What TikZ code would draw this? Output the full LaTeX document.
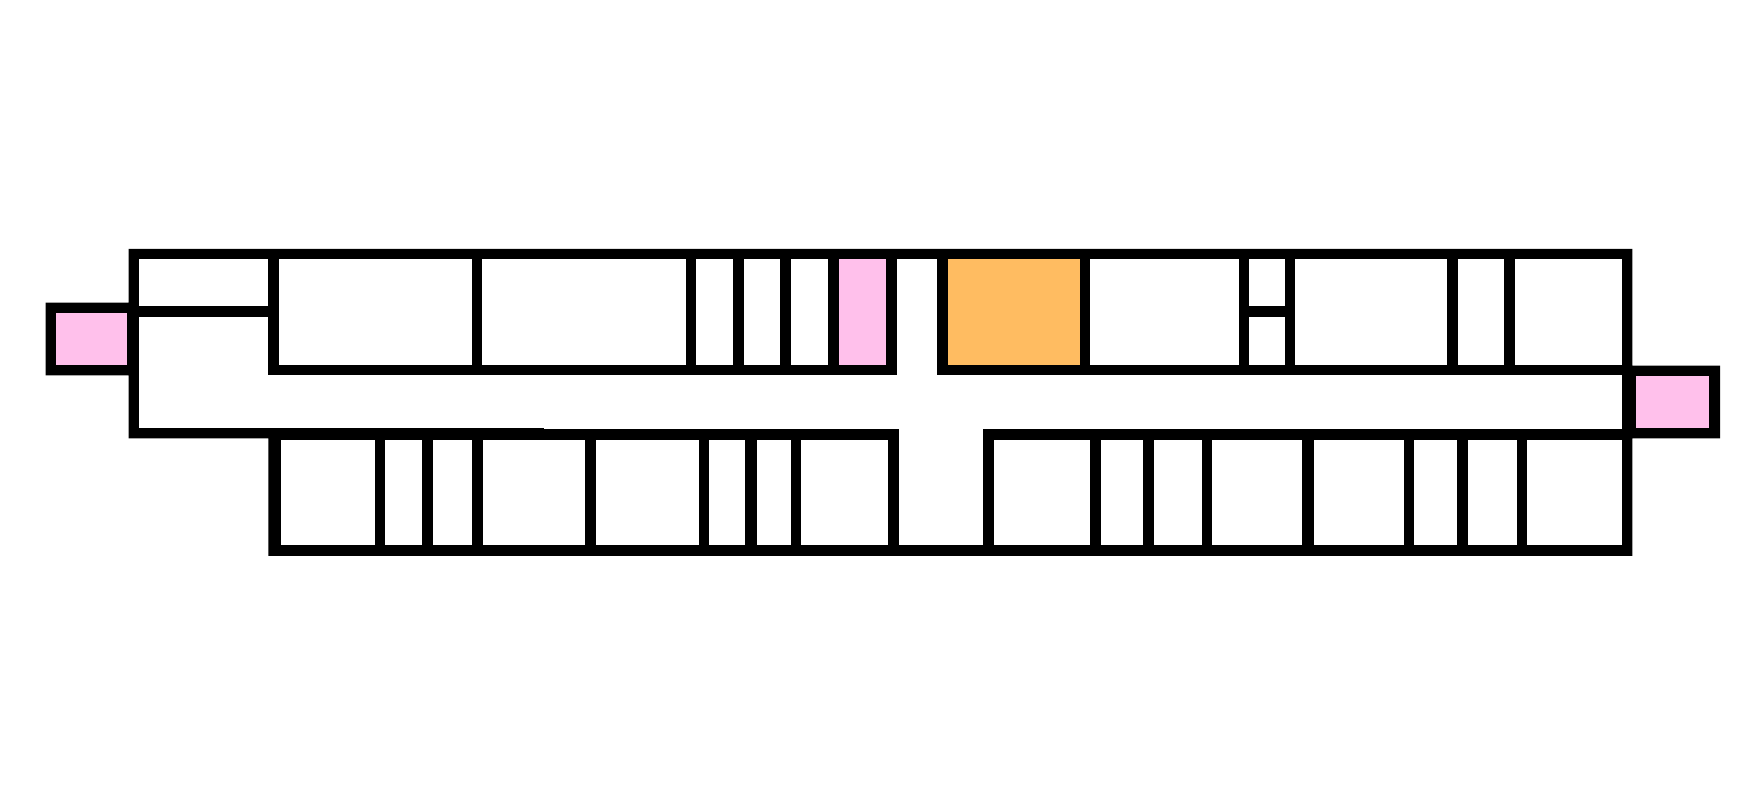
\documentclass[tikz,border=0pt]{standalone}
\definecolor{pinkroom}{HTML}{FFC0EB}
\definecolor{orangeroom}{HTML}{FFBC61}
\tikzset{
  wall/.style={fill=black,draw=none},
  room/.style={fill=white,draw=none},
  pinkcell/.style={fill=pinkroom,draw=none},
  orangecell/.style={fill=orangeroom,draw=none}
}
\begin{document}
\begin{tikzpicture}[x=0.5pt,y=-0.5pt]
\useasboundingbox (0,0) rectangle (1756,801);
\fill[white] (0,0) rectangle (1756,801);
% walls
\fill[wall] (128.7,249) -- (1632.3,249) -- (1632.3,365.7) -- (1720.1,365.7) -- (1720.1,438.3) -- (1632.3,438.3)
  -- (1632.3,556) -- (268.4,556) -- (268.4,438.3) -- (128.7,438.3) -- (128.7,375.3) -- (45.7,375.3) -- (45.7,302.7) -- (128.7,302.7) -- cycle;
% corridor
\fill[room] (139.1,316.7) rectangle (268.4,428);
\fill[room] (268.4,375.3) rectangle (543.9,428);
\fill[room] (543.9,375.3) rectangle (1621.8,429.3);
\fill[room] (896.6,259.3) rectangle (937.1,375.3);
\fill[room] (898.5,429.3) rectangle (983.4,545.3);
% top row
\foreach \a/\b/\c/\d in {139.1/268.4/259.3/306.3, 278.7/472/259.3/365, 482.3/686.1/259.3/365, 696.4/732.8/259.3/365,
  743.5/780.2/259.3/365, 791.3/828.4/259.3/365, 1090.2/1238.8/259.3/365, 1248.9/1284.7/259.3/306.3, 1248.9/1284.7/316.7/365,
  1294.8/1446.9/259.3/365, 1458.1/1503.7/259.3/365, 1514.6/1621.8/259.3/365}
  \fill[room] (\a,\c) rectangle (\b,\d);
% bottom row
\foreach \a/\b in {280.6/374.8, 385.1/422.2, 433.3/472, 483.1/584.8, 596.3/698.7, 709.1/745.4, 756.5/790.6, 801.3/888.1,
  993.7/1090.2, 1100.5/1143.4, 1153.7/1201.8, 1211.9/1302.3, 1313.5/1403.6, 1414/1456.6, 1467.9/1516.8, 1527.3/1621.8}
  \fill[room] (\a,440) rectangle (\b,545.3);
% coloured rooms
\fill[pinkcell] (56,313.3) rectangle (126.8,365);
\fill[pinkcell] (839.2,259.3) rectangle (885.8,365);
\fill[pinkcell] (1635.7,376) rectangle (1709.3,428);
\fill[orangecell] (947.5,259.3) rectangle (1079.5,365);
\end{tikzpicture}
\end{document}
